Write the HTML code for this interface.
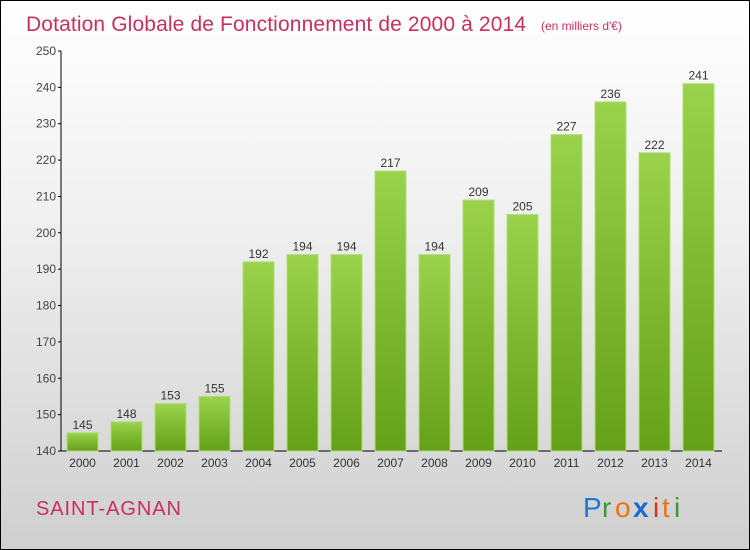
<!DOCTYPE html>
<html><head><meta charset="utf-8"><style>
body{margin:0}
#c{width:748px;height:548px;border:1px solid #000;background:linear-gradient(#fff,#f0f0f0 40%,#cfcfcf);position:relative;overflow:hidden;font-family:"Liberation Sans",sans-serif}
</style></head><body>
<div id="c">
<svg id="s" width="748" height="548" style="position:absolute;left:0;top:0">
<defs><linearGradient id="g" x1="0" y1="0" x2="0" y2="1"><stop offset="0" stop-color="#9ad24c"/><stop offset="1" stop-color="#64a018"/></linearGradient></defs>
<text x="25" y="30" font-size="21" textLength="500" fill="#c8305f">Dotation Globale de Fonctionnement de 2000 à 2014</text>
<text x="540" y="29" font-size="12" fill="#c8305f">(en milliers d'€)</text>
<text x="35" y="514" font-size="20" textLength="145" fill="#c8305f">SAINT-AGNAN</text>
<g font-size="28">
<text x="582" y="516" fill="#1a7ad0">P</text><text x="601" y="516" fill="#3a9a30">r</text><text x="614" y="516" fill="#f07010">o</text><text x="632" y="516" fill="#1a6ad0" font-weight="bold">x</text><text x="652" y="516" fill="#e03020">i</text><text x="661" y="516" fill="#f07010">t</text><text x="673" y="516" fill="#3a9a30">i</text>
</g>
</svg>
</div>
<script>
const years=["2000","2001","2002","2003","2004","2005","2006","2007","2008","2009","2010","2011","2012","2013","2014"];
const values=[145,148,153,155,192,194,194,217,194,209,205,227,236,222,241];
const yTicks=[140,150,160,170,180,190,200,210,220,230,240,250];
const ns="http://www.w3.org/2000/svg",s=document.getElementById('s');
const y=v=>450-(v-140)*400/110, x=i=>81.5+44*i;
function mk(t,a){const e=document.createElementNS(ns,t);for(const k in a)e.setAttribute(k,a[k]);s.appendChild(e);return e;}
let ax=mk('line',{x1:60,y1:50,x2:60,y2:450,stroke:'#000'});

let bx=mk('line',{x1:60,y1:450,x2:721,y2:450,stroke:'#000'});

yTicks.forEach(v=>{
 let l=mk('line',{x1:57,x2:60,y1:y(v),y2:y(v),stroke:'#000'});
 
 let t=mk('text',{x:55,y:y(v)+4,'text-anchor':'end','font-size':12,fill:'#444'});t.textContent=v;
 
});
values.forEach((v,i)=>{
 let r=mk('rect',{x:x(i)-15.5,y:y(v),width:31,height:450-y(v),fill:'url(#g)',stroke:'#b0dc78','stroke-width':1});
 
 let t=mk('text',{x:x(i),y:y(v)-4,'text-anchor':'middle','font-size':12,fill:'#333'});t.textContent=v;
 
 let k=mk('text',{x:x(i),y:466,'text-anchor':'middle','font-size':12,fill:'#333'});k.textContent=years[i];
 
});
</script>
</body></html>
